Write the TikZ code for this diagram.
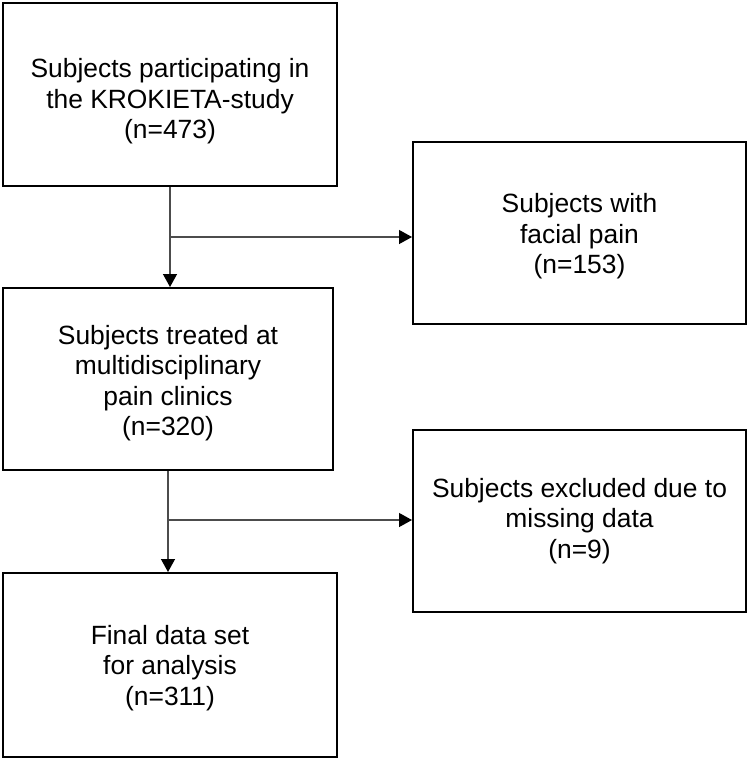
\documentclass[tikz,border=0pt]{standalone}
\usepackage{fontspec}
\setmainfont{Liberation Sans}
\usetikzlibrary{arrows.meta}

\begin{document}
\begin{tikzpicture}[
		x=1pt, y=-1pt,
		box/.style={draw=black, line width=2pt, inner sep=0pt, align=center,
			font=\fontsize{26.4}{30.5}\selectfont},
		flow/.style={draw=black!70, line width=1.3pt,
			-{Triangle[length=13pt, width=14pt, fill=black, color=black]}}
	]
	\useasboundingbox (0,0) rectangle (750,761);

	% boxes (the rules only push the text a little down)
	\node[box, minimum width=334pt, minimum height=183pt] (sample) at (170,94.5)
		{\rule{0pt}{33pt}Subjects participating in\\the KROKIETA-study\\(n=473)};
	\node[box, minimum width=333pt, minimum height=182pt] (facial) at (579.5,233)
		{\rule{0pt}{26pt}Subjects with\\facial pain\\(n=153)};
	\node[box, minimum width=330pt, minimum height=182pt] (clinic) at (168,379)
		{\rule{0pt}{27pt}Subjects treated at\\multidisciplinary\\pain clinics\\(n=320)};
	\node[box, minimum width=333pt, minimum height=182pt] (missing) at (579.5,521)
		{Subjects excluded due to\\missing data\\(n=9)};
	\node[box, minimum width=334pt, minimum height=184pt] (final) at (170,665)
		{\rule{0pt}{25pt}Final data set\\for analysis\\(n=311)};

	\coordinate (split1) at (sample.south |- 0,237);
	\coordinate (split2) at (clinic.south |- 0,520);

	% arrows
	\draw[flow] (sample.south) -- (sample.south |- clinic.north);
	\draw[flow] (split1) -- (split1 -| facial.west);
	\draw[flow] (clinic.south) -- (clinic.south |- final.north);
	\draw[flow] (split2) -- (split2 -| missing.west);
\end{tikzpicture}
\end{document}
